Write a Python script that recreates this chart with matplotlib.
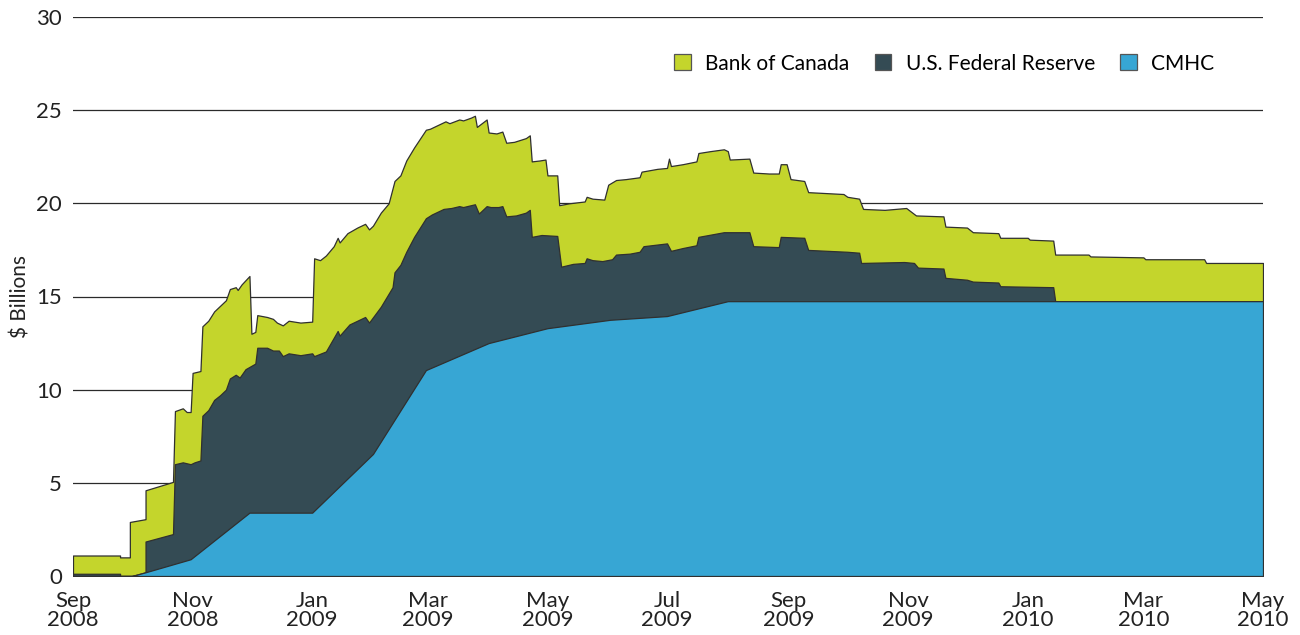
import numpy as np
import matplotlib
matplotlib.use("Agg")
import matplotlib.pyplot as plt
import matplotlib.dates as mdates

plt.rcParams['font.family'] = ['Lato', 'DejaVu Sans']

# days since 2008-09-01 (repeated day = vertical jump)
start = np.datetime64('2008-09-01')

total_days = [0, 24, 24, 29, 29, 37, 37, 51, 52, 56, 58, 60, 61, 65, 66, 69, 72, 75, 78, 80,
              83, 84, 86, 90, 91, 93, 94, 99, 102, 104, 107, 110, 116, 122, 123, 126, 129, 133,
              135, 136, 140, 145, 149, 151, 153, 157, 161, 162, 164, 167, 170, 174, 180, 182,
              184, 190, 192, 197, 199, 203, 205, 206, 211, 212, 216, 219, 221, 225, 231, 233,
              234, 238, 241, 242, 247, 248, 253, 261, 262, 265, 271, 273, 277, 282, 289, 290,
              298, 303, 304, 305, 311, 318, 319, 325, 332, 334, 335, 345, 347, 355, 360, 361,
              364, 366, 373, 375, 393, 395, 401, 403, 414, 425, 430, 444, 445, 456, 459, 472,
              473, 487, 488, 500, 501, 518, 519, 546, 547, 577, 578, 607]
total_level = [1.1, 1.1, 1.0, 1.0, 2.9, 3.05, 4.6, 5.05, 8.85, 9.0, 8.8, 8.8, 10.9, 11.0, 13.4,
               13.7, 14.2, 14.5, 14.8, 15.4, 15.5, 15.35, 15.65, 16.1, 13.0, 13.1, 14.0, 13.9,
               13.8, 13.6, 13.45, 13.7, 13.6, 13.65, 17.05, 16.95, 17.2, 17.7, 18.15, 17.9, 18.4,
               18.7, 18.9, 18.6, 18.8, 19.5, 20.0, 20.4, 21.2, 21.5, 22.3, 23.0, 23.95, 24.0,
               24.1, 24.4, 24.3, 24.5, 24.45, 24.6, 24.7, 24.1, 24.5, 23.8, 23.75, 23.85, 23.25,
               23.3, 23.5, 23.65, 22.25, 22.3, 22.35, 21.5, 21.5, 19.9, 20.0, 20.1, 20.35, 20.25,
               20.2, 21.0, 21.25, 21.3, 21.4, 21.7, 21.85, 21.9, 22.4, 22.0, 22.1, 22.25, 22.7,
               22.8, 22.9, 22.8, 22.35, 22.4, 21.65, 21.6, 21.6, 22.1, 22.1, 21.3, 21.2, 20.6,
               20.5, 20.35, 20.25, 19.7, 19.65, 19.75, 19.35, 19.3, 18.75, 18.7, 18.45, 18.4,
               18.15, 18.15, 18.05, 18.0, 17.25, 17.25, 17.15, 17.1, 17.0, 17.0, 16.8, 16.8]

fed_days = [0, 24, 24, 30, 37, 37, 51, 52, 56, 60, 62, 65, 66, 69, 72, 75, 78, 80, 83, 85, 88,
            93, 94, 99, 102, 105, 107, 110, 116, 122, 123, 129, 135, 136, 141, 149, 151, 157,
            163, 164, 167, 170, 174, 180, 183, 189, 193, 197, 199, 205, 207, 211, 213, 217, 219,
            221, 226, 231, 233, 234, 239, 247, 249, 255, 261, 262, 265, 270, 275, 277, 284, 289,
            291, 303, 305, 311, 318, 319, 332, 345, 347, 360, 361, 373, 375, 395, 401, 402, 424,
            429, 431, 444, 445, 456, 459, 472, 473, 500, 501, 607]
fed_level = [0.12, 0.12, 0.0, 0.0, 0.2, 1.85, 2.25, 6.0, 6.1, 6.0, 6.1, 6.2, 8.6, 8.9, 9.45,
             9.7, 10.0, 10.6, 10.8, 10.65, 11.1, 11.4, 12.25, 12.25, 12.1, 12.1, 11.8, 11.95,
             11.85, 11.95, 11.8, 12.05, 13.15, 12.9, 13.5, 13.9, 13.6, 14.45, 15.5, 16.3, 16.7,
             17.4, 18.2, 19.2, 19.4, 19.7, 19.75, 19.85, 19.8, 19.95, 19.45, 19.85, 19.8, 19.8,
             19.85, 19.3, 19.35, 19.5, 19.65, 18.2, 18.3, 18.25, 16.6, 16.75, 16.8, 17.05,
             16.95, 16.9, 17.0, 17.25, 17.3, 17.4, 17.7, 17.85, 17.45, 17.6, 17.75, 18.2, 18.45,
             18.45, 17.7, 17.65, 18.2, 18.15, 17.5, 17.4, 17.35, 16.8, 16.85, 16.8, 16.55, 16.5,
             16.0, 15.9, 15.8, 15.75, 15.55, 15.5, 14.75, 14.75]

cmhc_days = [0, 30, 37, 60, 90, 122, 153, 180, 212, 242, 274, 303, 334, 607]
cmhc_level = [0, 0, 0.2, 0.9, 3.4, 3.4, 6.55, 11.05, 12.5, 13.3, 13.75, 13.95, 14.75, 14.75]

labels = ['Bank of Canada', 'U.S. Federal Reserve', 'CMHC']
colors = ['#C4D52C', '#344B54', '#37A6D4']


def to_dates(days):
    return start + np.array(days, dtype='timedelta64[D]')


fig = plt.figure(figsize=(13, 6.35), dpi=100)
ax = fig.add_axes([73 / 1300, 59 / 635, 1190 / 1300, 559 / 635])

levels = [(total_days, total_level), (fed_days, fed_level), (cmhc_days, cmhc_level)]
for (d, v), lab, col in zip(levels, labels, colors):
    ax.fill_between(to_dates(d), 0, v, facecolor=col, edgecolor='#303030',
                    linewidth=0.9, label=lab, zorder=2)

ax.set_ylim(0, 30)
ax.set_xlim(np.datetime64('2008-09-01'), np.datetime64('2010-05-01'))
ax.set_yticks(range(0, 31, 5))
ax.yaxis.grid(True, color='#2a2a2a', linewidth=0.9)
ax.set_axisbelow(True)

ax.xaxis.set_major_locator(mdates.MonthLocator(bymonth=[1, 3, 5, 7, 9, 11]))
ax.xaxis.set_major_formatter(mdates.DateFormatter('%b\n%Y'))
ax.tick_params(axis='both', length=0, labelsize=16, colors='#222222')
ax.tick_params(axis='x', pad=11)
ax.tick_params(axis='y', pad=8)
for lbl in ax.get_xticklabels():
    lbl.set_linespacing(0.9)

for s in ax.spines.values():
    s.set_visible(False)

ax.set_ylabel(r'\$ Billions', fontsize=15, color='#222222', labelpad=4)

leg = ax.legend(loc='upper right', bbox_to_anchor=(0.975, 0.968), ncol=3, frameon=False,
                fontsize=15, handlelength=0.8, handleheight=0.8, columnspacing=1.2,
                handletextpad=0.7)
for h in leg.legend_handles:
    h.set_edgecolor('#555555')

fig.savefig('out.png', dpi=100)
